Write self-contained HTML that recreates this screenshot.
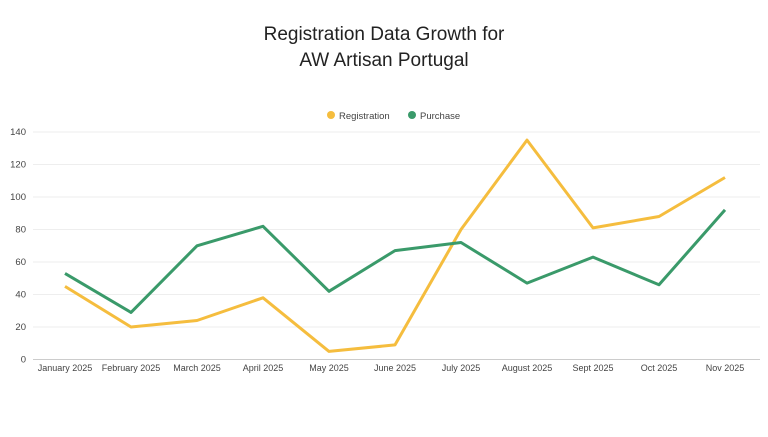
<!DOCTYPE html>
<html><head><meta charset="utf-8"><style>
body{margin:0;background:#fff;}
svg text{font-family:"Liberation Sans",sans-serif;}
</style></head><body>
<svg width="768" height="432" viewBox="0 0 768 432" xmlns="http://www.w3.org/2000/svg">
<text x="384" y="40" text-anchor="middle" font-size="19" fill="#222">Registration Data Growth for</text>
<text x="384" y="66" text-anchor="middle" font-size="19" fill="#222">AW Artisan Portugal</text>
<circle cx="331" cy="115" r="4" fill="#f5bd3e"/>
<text x="339" y="119" font-size="9.5" fill="#444">Registration</text>
<circle cx="412" cy="115" r="4" fill="#3a9a6a"/>
<text x="420" y="119" font-size="9.5" fill="#444">Purchase</text>
<g stroke="#eeeeee" stroke-width="1">
<line x1="33" x2="760" y1="132" y2="132"/><line x1="33" x2="760" y1="164.5" y2="164.5"/>
<line x1="33" x2="760" y1="197" y2="197"/><line x1="33" x2="760" y1="229.5" y2="229.5"/>
<line x1="33" x2="760" y1="262" y2="262"/><line x1="33" x2="760" y1="294.5" y2="294.5"/>
<line x1="33" x2="760" y1="327" y2="327"/>
</g>
<line x1="33" x2="760" y1="359.5" y2="359.5" stroke="#ccc"/>
<g font-size="9.5" fill="#444" text-anchor="end">
<text x="26" y="135">140</text><text x="26" y="167.5">120</text><text x="26" y="200">100</text>
<text x="26" y="232.5">80</text><text x="26" y="265">60</text><text x="26" y="297.5">40</text>
<text x="26" y="330">20</text><text x="26" y="362.5">0</text>
</g>
<g font-size="9" fill="#444" text-anchor="middle">
<text x="65" y="371">January 2025</text><text x="131" y="371">February 2025</text>
<text x="197" y="371">March 2025</text><text x="263" y="371">April 2025</text>
<text x="329" y="371">May 2025</text><text x="395" y="371">June 2025</text>
<text x="461" y="371">July 2025</text><text x="527" y="371">August 2025</text>
<text x="593" y="371">Sept 2025</text><text x="659" y="371">Oct 2025</text>
<text x="725" y="371">Nov 2025</text>
</g>
<polyline fill="none" stroke="#f5bd3e" stroke-width="3" stroke-linejoin="round" points="65,286.4 131,327 197,320.5 263,297.8 329,351.4 395,344.9 461,229.5 527,140.1 593,227.9 659,216.5 725,177.5"/>
<polyline fill="none" stroke="#3a9a6a" stroke-width="3" stroke-linejoin="round" points="65,273.4 131,312.4 197,245.8 263,226.3 329,291.3 395,250.6 461,242.5 527,283.1 593,257.1 659,284.8 725,209.9"/>
</svg>
</body></html>
